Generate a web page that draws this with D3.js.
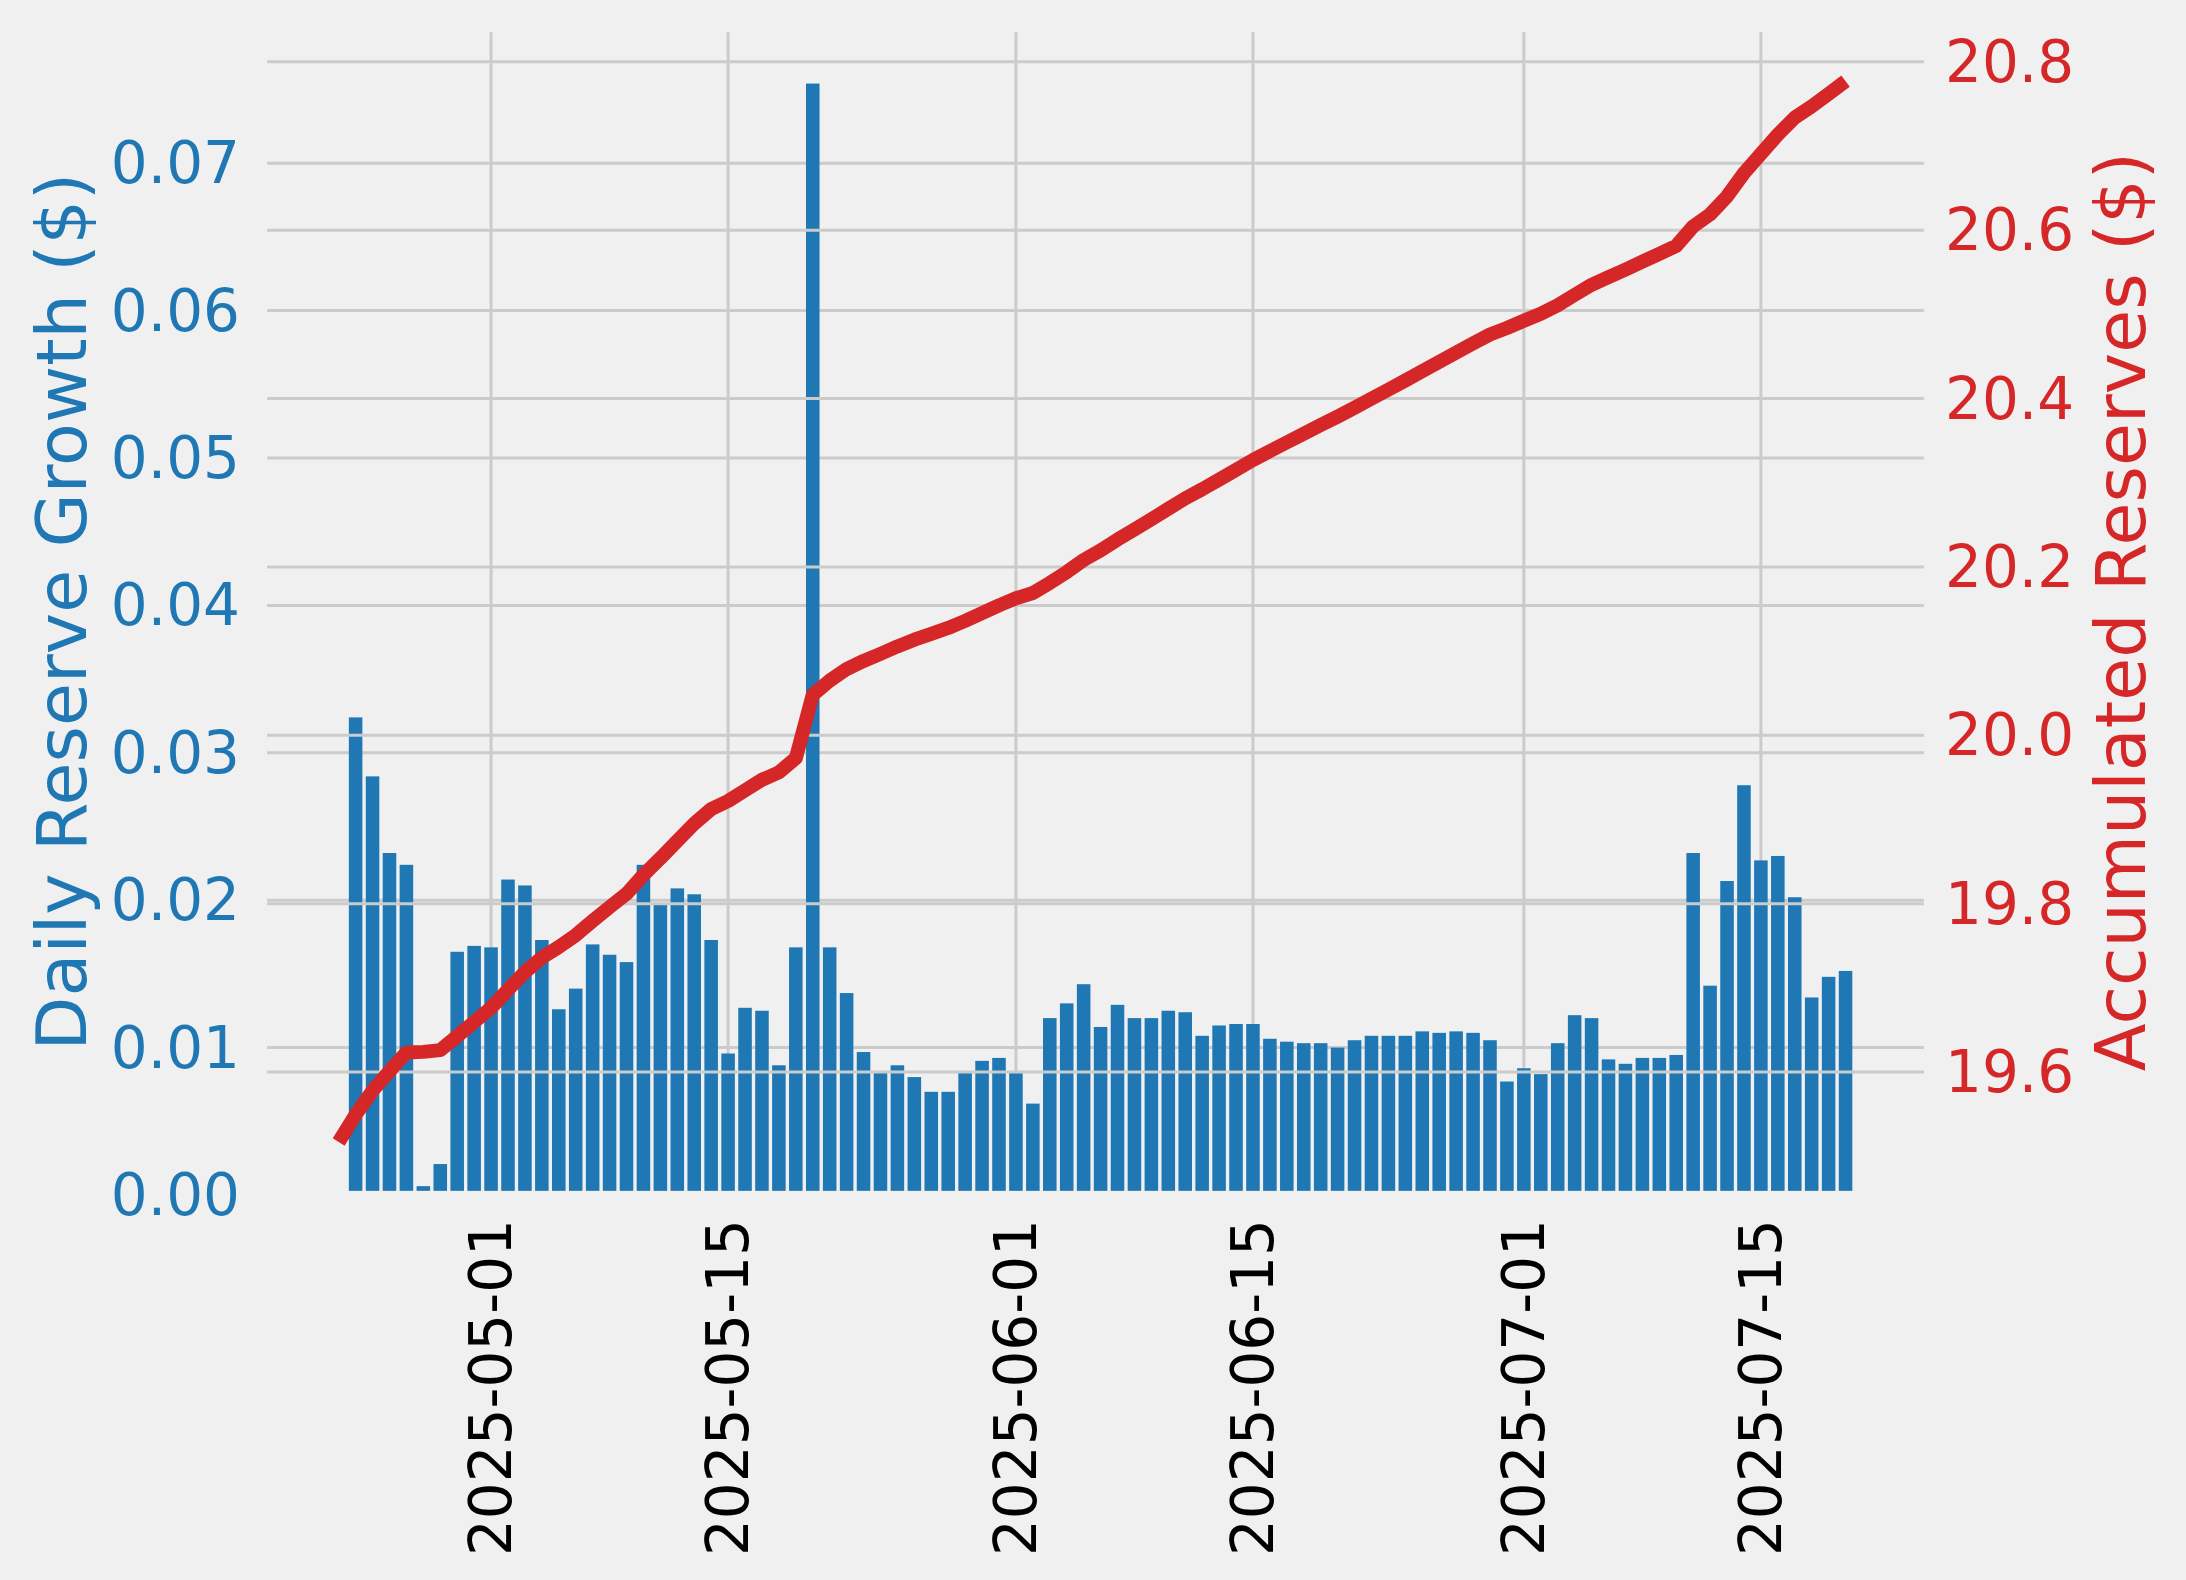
<!DOCTYPE html>
<html>
<head>
<meta charset="utf-8">
<script src="https://cdn.jsdelivr.net/npm/d3@7"></script>
<style>
  html, body { margin: 0; padding: 0; background: #f0f0f0; }
  svg { display: block; font-family: "DejaVu Sans", sans-serif; }
</style>
</head>
<body>
<div id="chart"></div>
<script>
// Daily reserve growth, one bar per day starting 2025-04-23
var growthStart = new Date(2025, 3, 23);
var growth = [
  0.0324, 0.0284, 0.0232, 0.0224, 0.0006, 0.0021, 0.0165, 0.0169, 0.0168, 0.0214,
  0.0210, 0.0173, 0.0126, 0.0140, 0.0170, 0.0163, 0.0158, 0.0224, 0.0198, 0.0208,
  0.0204, 0.0173, 0.0096, 0.0127, 0.0125, 0.0088, 0.0168, 0.0754, 0.0168, 0.0137,
  0.0097, 0.0084, 0.0088, 0.0080, 0.0070, 0.0070, 0.0084, 0.0091, 0.0093, 0.0084,
  0.0062, 0.0120, 0.0130, 0.0143, 0.0114, 0.0129, 0.0120, 0.0120, 0.0125, 0.0124,
  0.0108, 0.0115, 0.0116, 0.0116, 0.0106, 0.0104, 0.0103, 0.0103, 0.0100, 0.0105,
  0.0108, 0.0108, 0.0108, 0.0111, 0.0110, 0.0111, 0.0110, 0.0105, 0.0077, 0.0086,
  0.0082, 0.0103, 0.0122, 0.0120, 0.0092, 0.0089, 0.0093, 0.0093, 0.0095, 0.0232,
  0.0142, 0.0213, 0.0278, 0.0227, 0.0230, 0.0202, 0.0134, 0.0148, 0.0152
];

// Accumulated reserves, one point per day starting 2025-04-22
var reserveStart = new Date(2025, 3, 22);
var reserves = [
  19.5170, 19.5494, 19.5778, 19.6010, 19.6234, 19.6240, 19.6261, 19.6426, 19.6595, 19.6763,
  19.6977, 19.7187, 19.7360, 19.7486, 19.7626, 19.7796, 19.7959, 19.8117, 19.8341, 19.8539,
  19.8747, 19.8951, 19.9124, 19.9220, 19.9347, 19.9472, 19.9560, 19.9728, 20.0482, 20.0650,
  20.0787, 20.0884, 20.0968, 20.1056, 20.1136, 20.1206, 20.1276, 20.1360, 20.1451, 20.1544,
  20.1628, 20.1690, 20.1810, 20.1940, 20.2083, 20.2197, 20.2326, 20.2446, 20.2566, 20.2691,
  20.2815, 20.2923, 20.3038, 20.3154, 20.3270, 20.3376, 20.3480, 20.3583, 20.3686, 20.3786,
  20.3891, 20.3999, 20.4107, 20.4215, 20.4326, 20.4436, 20.4547, 20.4657, 20.4762, 20.4839,
  20.4925, 20.5007, 20.5110, 20.5232, 20.5352, 20.5444, 20.5533, 20.5626, 20.5719, 20.5814,
  20.6046, 20.6188, 20.6401, 20.6679, 20.6906, 20.7136, 20.7338, 20.7472, 20.7620, 20.7772
];

var xTickLabels = ["2025-05-01", "2025-05-15", "2025-06-01", "2025-06-15", "2025-07-01", "2025-07-15"];
var leftTicks = [0, 0.01, 0.02, 0.03, 0.04, 0.05, 0.06, 0.07];
var rightTicks = [19.6, 19.8, 20.0, 20.2, 20.4, 20.6, 20.8];

var blue = "#1f77b4";
var red = "#d62728";
var gridColor = "#cbcbcb";
var bg = "#f0f0f0";

var svgWidth = 2186;
var svgHeight = 1580;
var margin = {top: 28, right: 2186 - 1928, bottom: 1580 - 1195, left: 263};
var width = svgWidth - margin.left - margin.right;
var height = svgHeight - margin.top - margin.bottom;

var barData = growth.map((v, i) => ({date: d3.timeDay.offset(growthStart, i), value: v}));
var lineData = reserves.map((v, i) => ({date: d3.timeDay.offset(reserveStart, i), value: v}));

var svg = d3.select("#chart")
  .append("svg")
  .attr("width", svgWidth)
  .attr("height", svgHeight);

svg.append("rect")
  .attr("width", svgWidth)
  .attr("height", svgHeight)
  .attr("fill", bg);

var chartGroup = svg.append("g")
  .attr("transform", `translate(${margin.left}, ${margin.top})`);

// x limits like matplotlib: data extent + 5% each side
var dayMs = 24 * 3600 * 1000;
var xLo = +lineData[0].date;
var xHi = +barData[barData.length - 1].date + 0.4 * dayMs;
var xPad = 0.05 * (xHi - xLo);
var xScale = d3.scaleTime()
  .domain([new Date(xLo - xPad), new Date(xHi + xPad)])
  .range([0, width]);

var gMax = d3.max(growth);
var yLeft = d3.scaleLinear()
  .domain([0, gMax * 1.05])
  .range([height, 0]);

var rMin = d3.min(reserves), rMax = d3.max(reserves);
var rPad = 0.05 * (rMax - rMin);
var yRight = d3.scaleLinear()
  .domain([rMin - rPad, rMax + rPad])
  .range([height, 0]);

var parseDay = d3.timeParse("%Y-%m-%d");

// grid below bars: left y grid and x grid
chartGroup.append("g").selectAll("line")
  .data(leftTicks)
  .enter()
  .append("line")
  .attr("x1", 0).attr("x2", width)
  .attr("y1", d => yLeft(d)).attr("y2", d => yLeft(d))
  .attr("stroke", gridColor)
  .attr("stroke-width", 3);

chartGroup.append("g").selectAll("line")
  .data(xTickLabels)
  .enter()
  .append("line")
  .attr("x1", d => xScale(parseDay(d))).attr("x2", d => xScale(parseDay(d)))
  .attr("y1", 0).attr("y2", height)
  .attr("stroke", gridColor)
  .attr("stroke-width", 3);

// bars, 0.8 day wide
var barW = xScale(new Date(+growthStart + 0.8 * dayMs)) - xScale(growthStart);
chartGroup.append("g").selectAll("rect")
  .data(barData)
  .enter()
  .append("rect")
  .attr("x", d => xScale(d.date) - barW / 2)
  .attr("y", d => yLeft(d.value))
  .attr("width", barW)
  .attr("height", d => yLeft(0) - yLeft(d.value))
  .attr("fill", blue);

// twin axis grid sits above the bars
chartGroup.append("g").selectAll("line")
  .data(rightTicks)
  .enter()
  .append("line")
  .attr("x1", 0).attr("x2", width)
  .attr("y1", d => yRight(d)).attr("y2", d => yRight(d))
  .attr("stroke", gridColor)
  .attr("stroke-width", 3);

var line = d3.line()
  .x(d => xScale(d.date))
  .y(d => yRight(d.value));

chartGroup.append("path")
  .datum(lineData)
  .attr("d", line)
  .attr("fill", "none")
  .attr("stroke", red)
  .attr("stroke-width", 14)
  .attr("stroke-linejoin", "round")
  .attr("stroke-linecap", "butt");

// background-coloured spines (fivethirtyeight style)
chartGroup.append("rect")
  .attr("x", 0).attr("y", 0)
  .attr("width", width).attr("height", height)
  .attr("fill", "none")
  .attr("stroke", bg)
  .attr("stroke-width", 8.3);

// left tick labels
chartGroup.append("g").selectAll("text")
  .data(leftTicks)
  .enter()
  .append("text")
  .attr("x", 240 - margin.left)
  .attr("y", d => yLeft(d))
  .attr("text-anchor", "end")
  .attr("dominant-baseline", "central")
  .attr("font-size", 58)
  .attr("fill", blue)
  .text(d => d3.format(".2f")(d));

// right tick labels
chartGroup.append("g").selectAll("text")
  .data(rightTicks)
  .enter()
  .append("text")
  .attr("x", 1945 - margin.left)
  .attr("y", d => yRight(d))
  .attr("text-anchor", "start")
  .attr("dominant-baseline", "central")
  .attr("font-size", 58)
  .attr("fill", red)
  .text(d => d3.format(".1f")(d));

// x tick labels, rotated
chartGroup.append("g").selectAll("text")
  .data(xTickLabels)
  .enter()
  .append("text")
  .attr("transform", d => `translate(${xScale(parseDay(d))}, ${1219 - margin.top}) rotate(-90)`)
  .attr("text-anchor", "end")
  .attr("dominant-baseline", "central")
  .attr("font-size", 58)
  .attr("fill", "#000")
  .text(d => d);

// axis names
chartGroup.append("text")
  .attr("transform", `translate(${86 - margin.left}, ${height / 2}) rotate(-90)`)
  .attr("text-anchor", "middle")
  .attr("font-size", 70)
  .attr("fill", blue)
  .text("Daily Reserve Growth ($)");

chartGroup.append("text")
  .attr("transform", `translate(${2145 - margin.left}, ${height / 2}) rotate(-90)`)
  .attr("text-anchor", "middle")
  .attr("font-size", 70)
  .attr("fill", red)
  .text("Accumulated Reserves ($)");
</script>
</body>
</html>
